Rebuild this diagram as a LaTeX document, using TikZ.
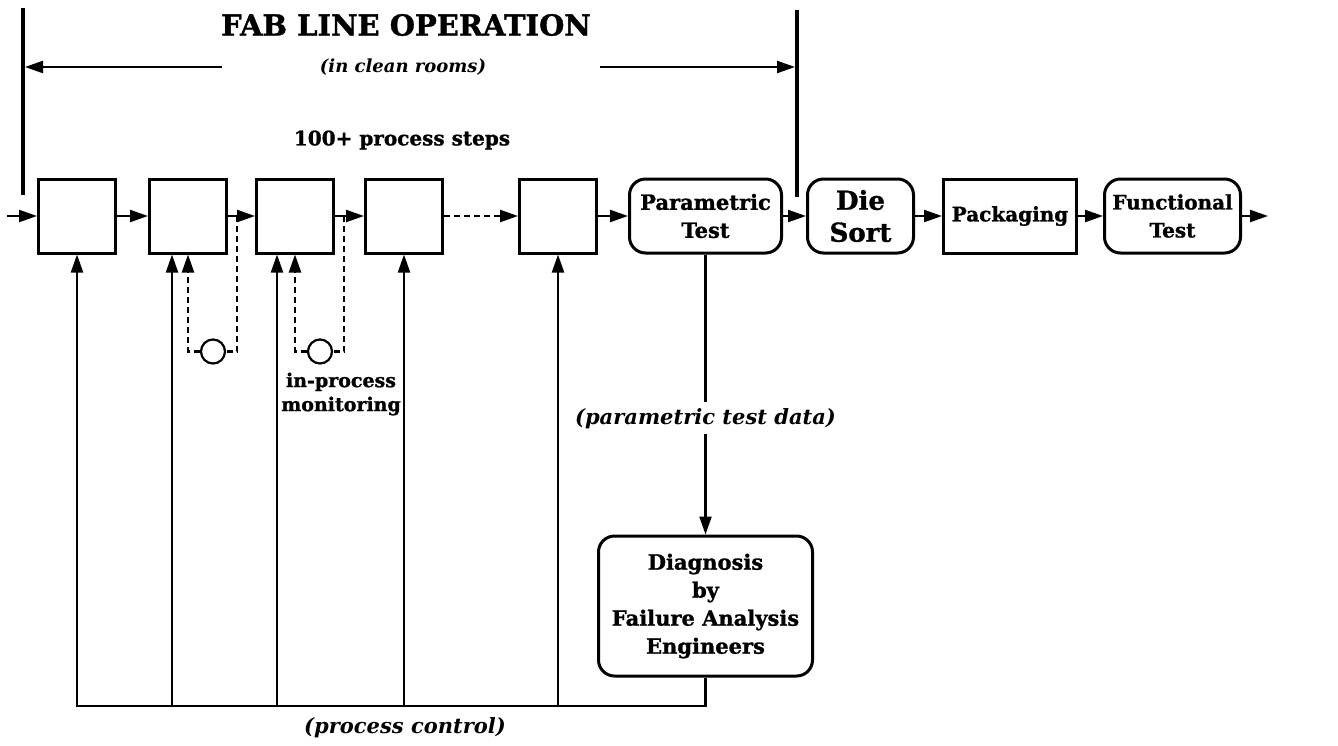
\documentclass[tikz,border=0pt]{standalone}
\usepackage{fontspec}
\setmainfont{DejaVu Serif}[BoldFeatures={FakeBold=1.2}]
\usetikzlibrary{arrows.meta}
\usetikzlibrary{positioning}
\tikzset{
    stepbox/.style={
           rectangle,
           draw=black, line width=1.5pt,
           minimum width=38.5pt,
           minimum height=37pt,
           inner sep=2pt,
           text centered,
           },
    testbox/.style={
           stepbox,
           rounded corners=8pt,
           align=center,
           font=\bfseries\fontsize{10.5}{14}\selectfont,
           },
    frameless/.style={
           inner sep=1pt,
           align=center,
           font=\bfseries\fontsize{10}{12}\selectfont,
           },
    probe/.style={
           circle,
           draw=black, line width=1.1pt,
           minimum size=12pt,
           inner sep=0pt,
           },
    flow/.style={-{Triangle[length=9pt,width=6pt]}, line width=1.1pt},
    monitor/.style={flow, line width=1.2pt, dash pattern=on 3pt off 2pt},
    loopline/.style={line width=1.2pt, dash pattern=on 3pt off 2pt},
    cleanbar/.style={line width=2.25pt},
}

\begin{document}
\begin{tikzpicture}[x=0.5pt, y=-0.5pt, node distance=14pt]
	\useasboundingbox (0,0) rectangle (1338,745);

	% fab line header
	\node[frameless, font=\bfseries\fontsize{14.5}{16}\selectfont] (fab) at (406,25) {FAB LINE OPERATION};
	\node[frameless, font=\bfseries\itshape\fontsize{9}{11}\selectfont] (clean) at (403,67) {(in clean rooms)};
	\node[frameless] (steps) at (402,140) {100+ process steps};

	\coordinate (fabL) at (23,8);
	\coordinate (fabLb) at (23,195);
	\coordinate (fabR) at (797,10);
	\coordinate (fabRb) at (797,197);
	\coordinate (la) at (222,67);
	\coordinate (ra) at (600,67);

	\draw[cleanbar] (fabL) -- (fabLb);
	\draw[cleanbar] (fabR) -- (fabRb);
	\draw[flow, shorten >=1pt] (la) -- (la -| fabL);
	\draw[flow, shorten >=1pt] (ra) -- (ra -| fabR);

	% process steps
	\node[stepbox] (s1) at (77,216) {};
	\node[stepbox, right=15.5pt of s1] (s2) {};
	\node[stepbox, right=13.5pt of s2] (s3) {};
	\node[stepbox, right=14.5pt of s3] (s4) {};
	\node[stepbox, right=37pt of s4] (s5) {};

	\node[testbox, minimum width=76pt, right=15pt of s5] (param) {Parametric\\Test};
	\node[testbox, minimum width=53pt, right=11.5pt of param,
	      font=\bfseries\fontsize{13}{16}\selectfont] (sort) {Die\\Sort};
	\node[stepbox, minimum width=66.5pt, right=13.5pt of sort,
	      font=\bfseries\fontsize{10}{14}\selectfont] (pack) {Packaging};
	\node[testbox, minimum width=68pt, right=12.5pt of pack,
	      font=\bfseries\fontsize{10}{14}\selectfont] (func) {Functional\\Test};

	\coordinate (in) at (7,216);
	\coordinate[right=13pt of func] (out);

	\node[testbox, minimum width=107pt, minimum height=70pt, below=140pt of param] (diag)
		{Diagnosis\\by\\Failure Analysis\\Engineers};

	\draw[flow] (in) -- (s1);
	\draw[flow] (s1) -- (s2);
	\draw[flow] (s2) -- (s3);
	\draw[flow] (s3) -- (s4);
	\draw[monitor] (s4) -- (s5);
	\draw[flow] (s5) -- (param);
	\draw[flow] (param) -- (sort);
	\draw[flow] (sort) -- (pack);
	\draw[flow] (pack) -- (func);
	\draw[flow] (func) -- (out);

	% in-process monitoring loops
	\node[probe] (mon1) at ([xshift=12.5pt, yshift=-48.5pt]s2.south) {};
	\node[probe] (mon2) at ([xshift=12.5pt, yshift=-48.5pt]s3.south) {};
	\coordinate (m1) at ([xshift=4.5pt]s2.east);
	\coordinate (m2) at ([xshift=4.5pt]s3.east);

	\draw[loopline] (m1) |- (mon1.east);
	\draw[monitor] (mon1.west) -| (s2.south);
	\draw[loopline] (m2) |- (mon2.east);
	\draw[monitor] (mon2.west) -| (s3.south);

	\node[frameless, font=\bfseries\fontsize{9.5}{12}\selectfont] (inproc) at (341,394) {in-process\\monitoring};

	% test data to diagnosis
	\draw[flow] (param) -- (diag)
		node[pos=0.585, fill=white, inner sep=3pt, font=\bfseries\itshape\fontsize{10.5}{12}\selectfont]
		(data) {(parametric test data)};

	% process control feedback
	\coordinate (base) at (0,706);
	\coordinate (c2) at ([xshift=-8pt]s2.south);
	\coordinate (c3) at ([xshift=-9pt]s3.south);

	\draw[flow] (diag.south) |- (base -| s1) -- (s1.south);
	\draw[flow] (c2 |- base) -- (c2);
	\draw[flow] (c3 |- base) -- (c3);
	\draw[flow] (base -| s4) -- (s4.south);
	\draw[flow] (base -| s5) -- (s5.south);

	\node[frameless, font=\bfseries\itshape\fontsize{10.5}{12}\selectfont] (ctrl) at (405,728) {(process control)};

\end{tikzpicture}
\end{document}
